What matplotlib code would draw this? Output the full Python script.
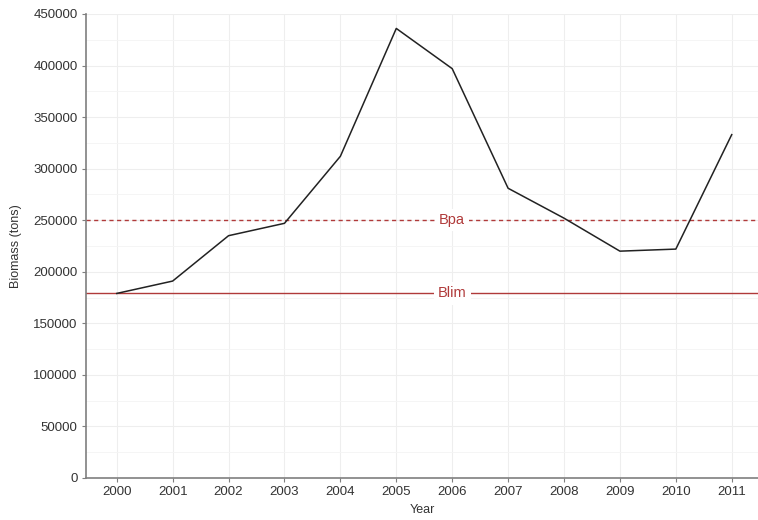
import matplotlib.pyplot as plt
import numpy as np

plt.rcParams["font.family"] = ["Liberation Sans", "DejaVu Sans"]

years = [2000, 2001, 2002, 2003, 2004, 2005, 2006, 2007, 2008, 2009, 2010, 2011]
biomass = [179000, 191000, 235000, 247000, 312000, 436000, 397000, 281000, 252000, 220000, 222000, 333000]
bpa = 250000
blim = 179000

red = "#b03a3a"
gray = "#7f7f7f"

fig = plt.figure(figsize=(7.58, 5.2), dpi=100)
ax = fig.add_axes([86 / 758, 1 - 478 / 520, (758 - 86) / 758, (478 - 14) / 520])

ax.set_xlim(1999.45, 2011.47)
ax.set_ylim(0, 450000)

# сетка: основная и промежуточная
ax.set_xticks(years)
ax.set_yticks(np.arange(0, 450001, 50000))
ax.set_yticks(np.arange(25000, 450000, 50000), minor=True)
ax.grid(which="major", color="#eeeeee", linewidth=0.8)
ax.grid(which="minor", axis="y", color="#f4f4f4", linewidth=0.6)
ax.set_axisbelow(True)

ax.axhline(bpa, color=red, linestyle=(0, (3, 2.5)), linewidth=1.0)
ax.axhline(blim, color=red, linewidth=1.0)
ax.text(2006, bpa, "Bpa", color=red, ha="center", va="center", fontsize=10.5,
        bbox=dict(facecolor="white", edgecolor="none", pad=3))
ax.text(2006, blim, "Blim", color=red, ha="center", va="center", fontsize=10.5,
        bbox=dict(facecolor="white", edgecolor="none", pad=3))

ax.plot(years, biomass, color="#222222", linewidth=1.1)

for s in ["top", "right"]:
    ax.spines[s].set_visible(False)
for s in ["left", "bottom"]:
    ax.spines[s].set_color(gray)
    ax.spines[s].set_linewidth(1.2)
ax.tick_params(which="major", colors=gray, labelcolor="#333333", labelsize=9.5, length=3, pad=3)
ax.tick_params(which="minor", length=0)

ax.set_xlabel("Year", fontsize=9, color="#333333", labelpad=4)
ax.set_ylabel("Biomass (tons)", fontsize=9, color="#333333", labelpad=8)

fig.savefig("out.png", dpi=100)
